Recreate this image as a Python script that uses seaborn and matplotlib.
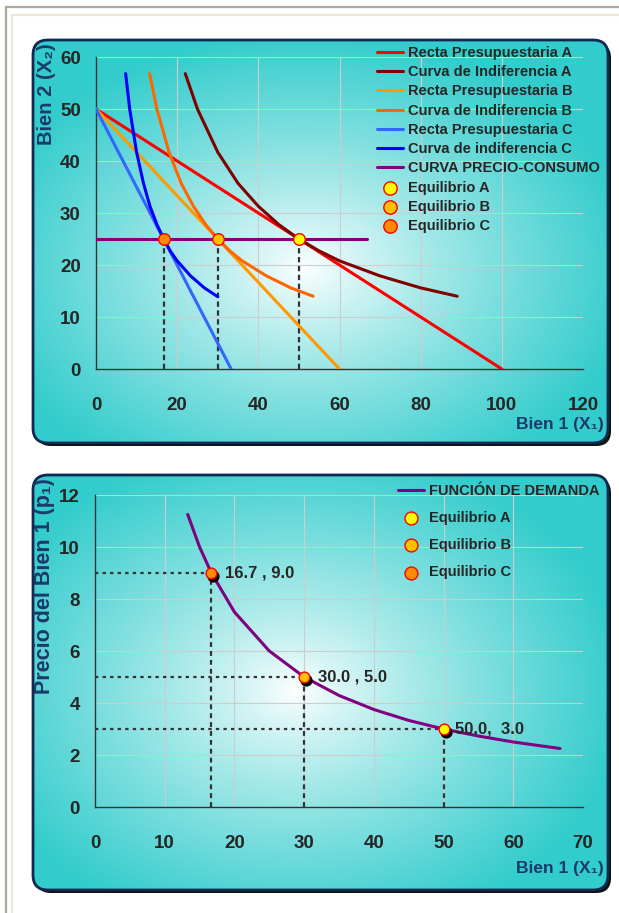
import numpy as np
import matplotlib
matplotlib.use("Agg")
import matplotlib.pyplot as plt
import seaborn as sns
from matplotlib.patches import FancyBboxPatch
from matplotlib.lines import Line2D
from matplotlib.transforms import offset_copy
from matplotlib.font_manager import FontProperties

# ---------------- data ----------------
recta_a_x = [0, 100]
recta_a_y = [50, 0]
recta_b_x = [0, 60]
recta_b_y = [50, 0]
recta_c_x = [0, 33.3]
recta_c_y = [50, 0]

curva_a_x = [22, 25, 30, 35, 40, 45, 50, 55, 60, 70, 80, 89]
curva_a_y = [56.8, 50, 41.7, 35.7, 31.3, 27.8, 25, 22.7, 20.8, 17.9, 15.6, 14.0]
curva_b_x = [13.2, 15, 18, 21, 24, 27, 30, 33, 36, 42, 48, 53.5]
curva_b_y = [56.8, 50, 41.7, 35.7, 31.3, 27.8, 25, 22.7, 20.8, 17.9, 15.6, 14.0]
curva_c_x = [7.3, 8.3, 10, 11.7, 13.3, 15, 16.7, 18.3, 20, 23.3, 26.7, 30]
curva_c_y = [56.8, 50, 41.7, 35.7, 31.3, 27.8, 25, 22.7, 20.8, 17.9, 15.6, 13.9]

pc_x = [0, 66.7]
pc_y = [25, 25]

eq_names = ["Equilibrio A", "Equilibrio B", "Equilibrio C"]
eq_x1 = [50, 30, 16.7]
eq_x2 = [25, 25, 25]
eq_p1 = [3.0, 5.0, 9.0]
eq_text = ["50.0,  3.0", "30.0 , 5.0", "16.7 , 9.0"]

dem_x = [13.3, 15, 16.7, 20, 25, 30, 35, 40, 45, 50, 55, 60, 66.7]
dem_p = [11.25, 10, 9, 7.5, 6, 5, 4.29, 3.75, 3.33, 3, 2.73, 2.5, 2.25]

top_xticks = [0, 20, 40, 60, 80, 100, 120]
top_yticks = [0, 10, 20, 30, 40, 50, 60]
bot_xticks = [0, 10, 20, 30, 40, 50, 60, 70]
bot_yticks = [0, 2, 4, 6, 8, 10, 12]

# ---------------- style ----------------
sns.set_style("white")
NARROW = ["Liberation Sans Narrow", "Liberation Sans", "DejaVu Sans"]
REG = ["Liberation Sans", "DejaVu Sans"]
plt.rcParams["font.family"] = REG

W, H = 619, 913
TEAL = np.array([0x33, 0xCC, 0xCC]) / 255.0
NAVY = "#1B3A6B"
eq_fill = ["#FFFF00", "#FFC000", "#FF8C00"]
eq_edge = "#FF0000"

fig = plt.figure(figsize=(W / 100, H / 100), dpi=100)
fig.patch.set_facecolor("white")

bg = fig.add_axes([0, 0, 1, 1])
bg.set_xlim(0, W)
bg.set_ylim(H, 0)
bg.axis("off")

# page frame
bg.add_line(Line2D([5.5, 5.5], [7, H], color="#ADA99A", lw=1.6))
bg.add_line(Line2D([5.5, W], [7.5, 7.5], color="#ADA99A", lw=1.6))
bg.add_line(Line2D([12, 12], [15, H], color="#ECE9D8", lw=1.6))
bg.add_line(Line2D([12, W], [15, 15], color="#ECE9D8", lw=1.6))


def panel(x0, y0, x1, y1, cx, cy, rx, ry):
    w, h = x1 - x0, y1 - y0
    bs = "round,pad=0,rounding_size=15"
    bg.add_patch(FancyBboxPatch((x0 + 3, y0 + 3), w, h, boxstyle=bs,
                                fc="#111111", ec="none", zorder=1))
    body = FancyBboxPatch((x0, y0), w, h, boxstyle=bs, fc=TEAL, ec="none", zorder=2)
    bg.add_patch(body)
    yy, xx = np.mgrid[y0:y1, x0:x1].astype(float)
    t = np.sqrt(((xx - cx) / rx) ** 2 + ((yy - cy) / ry) ** 2)
    t = np.clip(t, 0, 1) ** 0.85
    img = (1 - t[..., None]) * np.array([1.0, 1.0, 1.0]) + t[..., None] * TEAL
    im = bg.imshow(img, extent=(x0, x1, y1, y0), zorder=3, interpolation="bilinear")
    im.set_clip_path(body)
    bg.add_patch(FancyBboxPatch((x0, y0), w, h, boxstyle=bs, fc="none",
                                ec="#0E2A50", lw=2.0, zorder=4))


panel(33, 40, 608, 443, 305, 268, 330, 235)
panel(33, 475, 608, 890, 295, 690, 330, 250)
bg.set_xlim(0, W)
bg.set_ylim(H, 0)
bg.set_aspect("auto")


def style_axes(ax, xticks, yticks):
    ax.patch.set_alpha(0)
    ax.set_xlim(xticks[0], xticks[-1])
    ax.set_ylim(yticks[0], yticks[-1])
    ax.set_xticks(xticks)
    ax.set_yticks(yticks)
    ax.grid(True, color="#CDCDCD", lw=0.8)
    ax.set_axisbelow(True)
    for s in ["top", "right"]:
        ax.spines[s].set_visible(False)
    for s in ["left", "bottom"]:
        ax.spines[s].set_color("#333333")
        ax.spines[s].set_linewidth(1.0)
    ax.tick_params(axis="x", direction="out", length=4, width=1, color="#333333", pad=16)
    ax.tick_params(axis="y", direction="out", length=4, width=1, color="#333333", pad=7)
    fp = FontProperties(family=NARROW, weight="bold", size=13.5)
    for lbl in ax.get_xticklabels() + ax.get_yticklabels():
        lbl.set_fontproperties(fp)
    ax.set_xlabel("")
    ax.set_ylabel("")


LEG_FP = FontProperties(family=NARROW, weight="bold", size=10.5)

# ---------------- top chart ----------------
ax1 = fig.add_axes([96 / W, (H - 369) / H, (583 - 96) / W, (369 - 57) / H])
lw = 2.2
series = [
    (recta_a_x, recta_a_y, "#FF0000", "Recta Presupuestaria A"),
    (curva_a_x, curva_a_y, "#800000", "Curva de Indiferencia A"),
    (recta_b_x, recta_b_y, "#FF9900", "Recta Presupuestaria B"),
    (curva_b_x, curva_b_y, "#FF6600", "Curva de Indiferencia B"),
    (recta_c_x, recta_c_y, "#3366FF", "Recta Presupuestaria C"),
    (curva_c_x, curva_c_y, "#0000FF", "Curva de indiferencia C"),
    (pc_x, pc_y, "#800080", "CURVA PRECIO-CONSUMO"),
]
for xs, ys, c, lab in series:
    sns.lineplot(x=xs, y=ys, ax=ax1, color=c, lw=lw, label=lab, sort=False,
                 errorbar=None, zorder=3)

ax1.vlines(eq_x1, 0, eq_x2, colors="#333333", lw=1.6, linestyles=(0, (2.4, 1.6)), zorder=2)
for i in range(3):
    sns.scatterplot(x=[eq_x1[i]], y=[eq_x2[i]], ax=ax1, s=70, color=eq_fill[i],
                    edgecolor=eq_edge, linewidth=1.0, label=eq_names[i], zorder=6)

style_axes(ax1, top_xticks, top_yticks)
h1, l1 = ax1.get_legend_handles_labels()
ax1.legend(h1, l1, loc="upper left", bbox_to_anchor=(377 / W, 1 - 46 / H),
           bbox_transform=fig.transFigure, frameon=False, prop=LEG_FP,
           handlelength=1.8, handletextpad=0.35, labelspacing=0.36,
           borderpad=0, borderaxespad=0, markerscale=1.15)

# ---------------- bottom chart ----------------
ax2 = fig.add_axes([95 / W, (H - 807) / H, (583 - 95) / W, (807 - 495) / H])
sns.lineplot(x=dem_x, y=dem_p, ax=ax2, color="#800080", lw=lw, label="FUNCIÓN DE DEMANDA",
             sort=False, errorbar=None, zorder=3)
ax2.hlines(eq_p1, 0, eq_x1, colors="#333333", lw=1.6, linestyles=(0, (1.5, 1.9)), zorder=2)
ax2.vlines(eq_x1, 0, eq_p1, colors="#333333", lw=1.6, linestyles=(0, (2.2, 1.8)), zorder=2)
shadow_tr = offset_copy(ax2.transData, fig=fig, x=2, y=-3, units="dots")
ax2.scatter(eq_x1, eq_p1, s=60, color="black", transform=shadow_tr, zorder=5)
for i in range(3):
    sns.scatterplot(x=[eq_x1[i]], y=[eq_p1[i]], ax=ax2, s=60, color=eq_fill[i],
                    edgecolor=eq_edge, linewidth=1.0, label=eq_names[i], zorder=6)
    ax2.annotate(eq_text[i], (eq_x1[i], eq_p1[i]), xytext=(8 if i == 0 else 10, 0),
                 textcoords="offset points", ha="left", va="center",
                 fontproperties=FontProperties(family=NARROW, weight="bold", size=12),
                 zorder=7)

style_axes(ax2, bot_xticks, bot_yticks)
h2, l2 = ax2.get_legend_handles_labels()
ax2.legend(h2, l2, loc="upper left", bbox_to_anchor=(398 / W, 1 - 484 / H),
           bbox_transform=fig.transFigure, frameon=False, prop=LEG_FP,
           handlelength=1.8, handletextpad=0.35, labelspacing=0.9,
           borderpad=0, borderaxespad=0, markerscale=1.2)

# ---------------- axis titles ----------------
lab_kw = dict(color=NAVY, fontweight="bold", family=REG)
fig.text(47 / W, 1 - 43 / H, "Bien 2 (X₂)", rotation=90, ha="center", va="top",
         fontsize=14.5, **lab_kw)
fig.text(604 / W, 1 - 425 / H, "Bien 1 (X₁)", ha="right", va="center", fontsize=12.5, **lab_kw)
fig.text(45 / W, 1 - 478 / H, "Precio del Bien 1 (p₁)", rotation=90, ha="center", va="top",
         fontsize=15.5, **lab_kw)
fig.text(604 / W, 1 - 868 / H, "Bien 1 (X₁)", ha="right", va="center", fontsize=12.5, **lab_kw)

fig.savefig("out.png", dpi=100)
